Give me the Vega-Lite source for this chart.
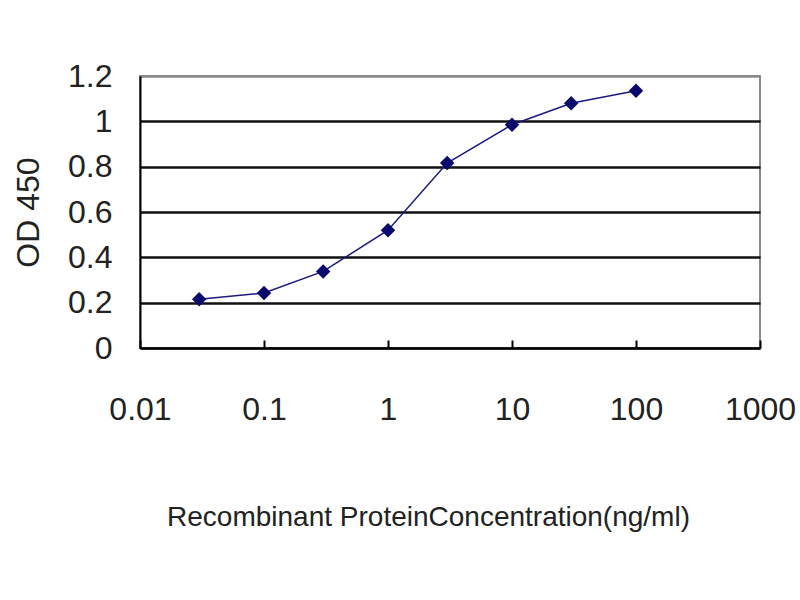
{
  "$schema": "https://vega.github.io/schema/vega-lite/v6.json",
  "width": 620,
  "height": 272,
  "autosize": {"type": "none"},
  "padding": {"left": 140, "top": 76, "right": 40, "bottom": 252},
  "background": "white",
  "config": {
    "view": {"stroke": "#8a8a8a", "strokeWidth": 2},
    "font": "Liberation Sans"
  },
  "data": {
    "values": [
      {"conc": 0.03, "od": 0.215},
      {"conc": 0.1, "od": 0.243},
      {"conc": 0.3, "od": 0.338},
      {"conc": 1, "od": 0.52},
      {"conc": 3, "od": 0.816},
      {"conc": 10, "od": 0.985},
      {"conc": 30, "od": 1.08},
      {"conc": 100, "od": 1.135}
    ]
  },
  "encoding": {
    "x": {
      "field": "conc",
      "type": "quantitative",
      "scale": {"type": "log", "domain": [0.01, 1000]},
      "axis": {
        "title": "Recombinant ProteinConcentration(ng/ml)",
        "titleFont": "Liberation Sans",
        "titleFontSize": 28,
        "titleFontWeight": "normal",
        "titleColor": "#222",
        "titlePadding": 78,
        "titleX": 288,
        "titleAnchor": "middle",
        "values": [0.01, 0.1, 1, 10, 100, 1000],
        "format": "~g",
        "labelFontSize": 32,
        "labelColor": "#222",
        "labelPadding": 54,
        "labelFlush": false,
        "tickSize": -8,
        "tickColor": "black",
        "tickWidth": 2,
        "domainColor": "black",
        "domainWidth": 2,
        "grid": false
      }
    },
    "y": {
      "field": "od",
      "type": "quantitative",
      "scale": {"domain": [0, 1.2]},
      "axis": {
        "title": "OD 450",
        "titleFont": "Liberation Sans",
        "titleFontSize": 32,
        "titleFontWeight": "normal",
        "titleColor": "#222",
        "titlePadding": 22,
        "values": [0, 0.2, 0.4, 0.6, 0.8, 1, 1.2],
        "format": "~g",
        "labelFontSize": 32,
        "labelColor": "#222",
        "labelPadding": 28,
        "ticks": false,
        "domainColor": "black",
        "domainWidth": 2,
        "grid": true,
        "gridColor": {"condition": {"test": "datum.value >= 1.2", "value": "#8a8a8a"}, "value": "#111"},
        "gridWidth": 2.5,
        "gridOpacity": 1
      }
    }
  },
  "layer": [
    {"mark": {"type": "line", "color": "#1a1a80", "strokeWidth": 1.5}},
    {"mark": {"type": "point", "shape": "diamond", "filled": true, "color": "#0a0a6e", "size": 210, "opacity": 1}}
  ]
}
